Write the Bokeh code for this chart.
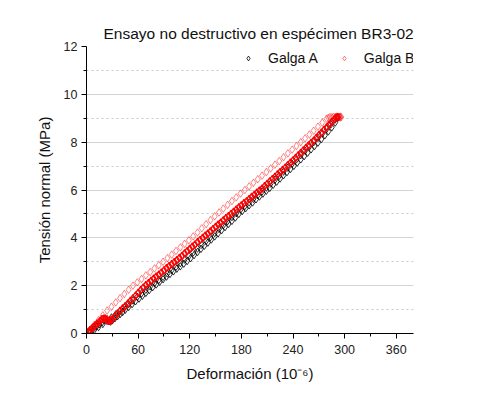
from bokeh.plotting import figure
from bokeh.models import Range1d, FixedTicker, Legend, LegendItem, ColumnDataSource
from bokeh.embed import file_html
from bokeh.resources import INLINE

# ---- data (strain in 1e-6, stress in MPa) ----
a_load_x = [0, 3, 6, 9, 12, 15, 18, 21, 24, 27, 28, 30, 33, 36, 39, 42, 45, 49, 53, 57,
            61, 65, 69, 73, 77, 81, 85, 89, 93, 97, 101, 105, 109, 113, 117, 121, 125, 129,
            133, 137, 141, 145, 149, 153, 157, 161, 165, 169, 173, 177, 181, 185, 189, 193,
            197, 201, 205, 209, 213, 217, 221, 225, 229, 233, 237, 241, 245, 249, 253, 257,
            261, 265, 269, 273, 277, 281, 285, 289, 292]
a_load_y = [0, 0.08, 0.16, 0.24, 0.31, 0.39, 0.47, 0.55, 0.6, 0.52, 0.5, 0.55, 0.64, 0.72,
            0.81, 0.9, 0.99, 1.11, 1.23, 1.35, 1.46, 1.58, 1.70, 1.82, 1.94, 2.05, 2.16, 2.27,
            2.38, 2.49, 2.60, 2.71, 2.81, 2.92, 3.03, 3.15, 3.28, 3.41, 3.54, 3.67, 3.80, 3.93,
            4.06, 4.19, 4.32, 4.45, 4.58, 4.71, 4.85, 5.00, 5.12, 5.24, 5.36, 5.48, 5.61, 5.73,
            5.85, 5.97, 6.09, 6.22, 6.35, 6.48, 6.62, 6.75, 6.88, 7.01, 7.15, 7.28, 7.42, 7.56,
            7.70, 7.84, 7.98, 8.13, 8.29, 8.45, 8.62, 8.82, 9.02]

a_unload_x = [292, 289, 284, 279, 274, 269, 264, 259, 254, 249, 244, 239, 234, 229, 224, 219,
              214, 209, 204, 199, 194, 189, 184, 179, 174, 169, 164, 159, 154, 149, 144, 139,
              134, 129, 124, 119, 114, 109, 104, 99, 94, 89, 84, 79, 74, 69, 64, 59, 54, 49,
              44, 39, 34, 29, 24, 19, 14, 9, 4, 0]
a_unload_y = [9.05, 8.95, 8.75, 8.55, 8.36, 8.18, 8.0, 7.82, 7.64, 7.46, 7.28, 7.1, 6.93, 6.77,
              6.6, 6.43, 6.27, 6.1, 5.94, 5.78, 5.63, 5.48, 5.33, 5.18, 5.03, 4.87, 4.7, 4.53,
              4.37, 4.2, 4.03, 3.87, 3.71, 3.55, 3.39, 3.24, 3.09, 2.94, 2.79, 2.65, 2.51, 2.37,
              2.24, 2.11, 1.97, 1.83, 1.68, 1.53, 1.38, 1.23, 1.08, 0.94, 0.8, 0.67, 0.53, 0.4,
              0.27, 0.15, 0.05, 0]

b_load_x = [0, 2, 4, 6, 8, 10, 12, 14, 16, 18, 20, 22, 24, 26, 28, 30, 33, 36, 39, 42, 45, 48,
            51, 54, 57, 60, 63, 66, 69, 72, 75, 78, 81, 84, 87, 90, 93, 96, 99, 102, 105, 108,
            111, 114, 117, 120, 123, 126, 129, 132, 135, 138, 141, 144, 147, 150, 153, 156, 159,
            162, 165, 168, 171, 174, 177, 180, 183, 186, 189, 192, 195, 198, 201, 204, 207, 210,
            213, 216, 219, 222, 225, 228, 231, 234, 237, 240, 243, 246, 249, 252, 255, 258, 261,
            264, 267, 270, 273, 276, 279, 282, 285, 288, 290]
b_load_y = [0, 0.07, 0.13, 0.2, 0.27, 0.33, 0.4, 0.46, 0.53, 0.6, 0.62, 0.62, 0.55, 0.53, 0.55,
            0.6, 0.72, 0.83, 0.95, 1.05, 1.15, 1.25, 1.36, 1.47, 1.58, 1.7, 1.81, 1.92, 2.02,
            2.11, 2.2, 2.29, 2.38, 2.46, 2.55, 2.64, 2.73, 2.82, 2.9, 2.98, 3.07, 3.16, 3.25,
            3.35, 3.44, 3.54, 3.63, 3.72, 3.82, 3.91, 4.0, 4.09, 4.18, 4.27, 4.36, 4.46, 4.55,
            4.64, 4.73, 4.82, 4.91, 5.0, 5.09, 5.18, 5.27, 5.36, 5.45, 5.53, 5.62, 5.71, 5.8,
            5.89, 5.97, 6.06, 6.16, 6.26, 6.36, 6.46, 6.55, 6.65, 6.75, 6.84, 6.94, 7.04, 7.14,
            7.24, 7.34, 7.45, 7.55, 7.66, 7.76, 7.87, 7.97, 8.07, 8.18, 8.29, 8.4, 8.51, 8.62,
            8.73, 8.84, 8.95, 9.03]

b_unload_x = [291, 292, 293, 294, 295, 296, 295, 293, 291, 289, 287, 285, 283, 281,
              279, 274, 269, 264, 259, 254, 249, 244, 239, 234, 229, 224, 219, 214, 209, 204,
              199, 194, 189, 184, 179, 174, 169, 164, 159, 154, 149, 144, 139, 134, 129, 124,
              119, 114, 109, 104, 99, 94, 89, 84, 79, 74, 69, 64, 59, 54, 49, 44, 39, 34, 29,
              24, 19, 14, 9, 4, 0]
b_unload_y = [9.05, 9.06, 9.04, 9.05, 9.03, 9.05, 9.07, 9.06, 9.07, 9.05, 9.06, 9.04, 9.05, 9.02,
              8.98, 8.82, 8.65, 8.48, 8.32, 8.16, 8.0, 7.84, 7.69, 7.53, 7.37, 7.21, 7.06, 6.9,
              6.75, 6.6, 6.45, 6.3, 6.15, 6.0, 5.85, 5.69, 5.54, 5.38, 5.22, 5.06, 4.9, 4.74,
              4.57, 4.4, 4.22, 4.06, 3.9, 3.75, 3.6, 3.45, 3.3, 3.15, 3.0, 2.86, 2.72, 2.57,
              2.43, 2.28, 2.14, 2.0, 1.83, 1.65, 1.48, 1.3, 1.12, 0.96, 0.76, 0.56, 0.36, 0.16, 0]

x_ticks = [0, 60, 120, 180, 240, 300, 360]
x_minor = [30, 90, 150, 210, 270, 330]
y_ticks = [0, 2, 4, 6, 8, 10, 12]
y_minor = [1, 3, 5, 7, 9, 11]

FONT = "Liberation Sans"

p = figure(width=472, height=392, output_backend="svg", toolbar_location=None,
           x_range=Range1d(0, 380), y_range=Range1d(0, 12),
           min_border_left=86, min_border_right=59, min_border_top=46, min_border_bottom=59)
p.outline_line_color = None
p.background_fill_color = "white"
p.border_fill_color = "white"

p.title.text = "Ensayo no destructivo en espécimen BR3-02"
p.title.text_font = FONT
p.title.text_font_size = "15.5px"
p.title.text_font_style = "normal"
p.title.text_color = "#111111"
p.title.align = "left"
p.title.offset = 17

src_a = ColumnDataSource(dict(x=a_load_x + a_unload_x, y=a_load_y + a_unload_y))
src_bl = ColumnDataSource(dict(x=b_load_x, y=b_load_y))
src_bu = ColumnDataSource(dict(x=b_unload_x, y=b_unload_y))

ra = p.scatter("x", "y", source=src_a, marker="diamond", size=7.5, fill_color=None,
               line_color="black", line_width=1.0, line_alpha=0.8)
rbu = p.scatter("x", "y", source=src_bu, marker="diamond", size=7.5, fill_color=None,
                line_color="red", line_width=0.7, line_alpha=0.7)
rbl = p.scatter("x", "y", source=src_bl, marker="diamond", size=7.5, fill_color=None,
                line_color="red", line_width=1.3)

for ax, ticks, minor in ((p.xaxis[0], x_ticks, x_minor), (p.yaxis[0], y_ticks, y_minor)):
    ax.ticker = FixedTicker(ticks=ticks, minor_ticks=minor)
    ax.axis_line_color = "black"
    ax.axis_line_width = 1
    ax.major_tick_line_color = "black"
    ax.minor_tick_line_color = "black"
    ax.major_tick_out = 5
    ax.major_tick_in = 0
    ax.minor_tick_out = 3
    ax.minor_tick_in = 0
    ax.major_label_text_font = FONT
    ax.major_label_text_font_size = "12.5px"
    ax.major_label_text_color = "#222222"
    ax.axis_label_text_font = FONT
    ax.axis_label_text_font_size = "15px"
    ax.axis_label_text_font_style = "normal"
    ax.axis_label_text_color = "#111111"
    ax.axis_label_standoff = 8

p.xaxis.axis_label = "Deformación (10⁻⁶)"
p.yaxis.axis_label = "Tensión normal (MPa)"
p.xaxis.major_label_standoff = 6
p.yaxis.major_label_standoff = 4

p.xgrid.grid_line_color = None
p.ygrid.grid_line_color = "#d4d4d4"
p.ygrid.grid_line_width = 1
p.ygrid.minor_grid_line_color = "#c8c8c8"
p.ygrid.minor_grid_line_dash = "2 3"
p.ygrid.minor_grid_line_width = 1

legend = Legend(items=[LegendItem(label="Galga A", renderers=[ra]),
                       LegendItem(label="Galga B", renderers=[rbu])],
                location=(156, 265), orientation="horizontal")
legend.background_fill_alpha = 0
legend.border_line_color = None
legend.padding = 0
legend.margin = 0
legend.glyph_width = 12
legend.glyph_height = 20
legend.label_standoff = 14
legend.spacing = 20
legend.label_text_font = FONT
legend.label_text_font_size = "14px"
legend.label_text_color = "#111111"
p.add_layout(legend, "center")

open("out.html", "w").write(file_html(p, INLINE))
